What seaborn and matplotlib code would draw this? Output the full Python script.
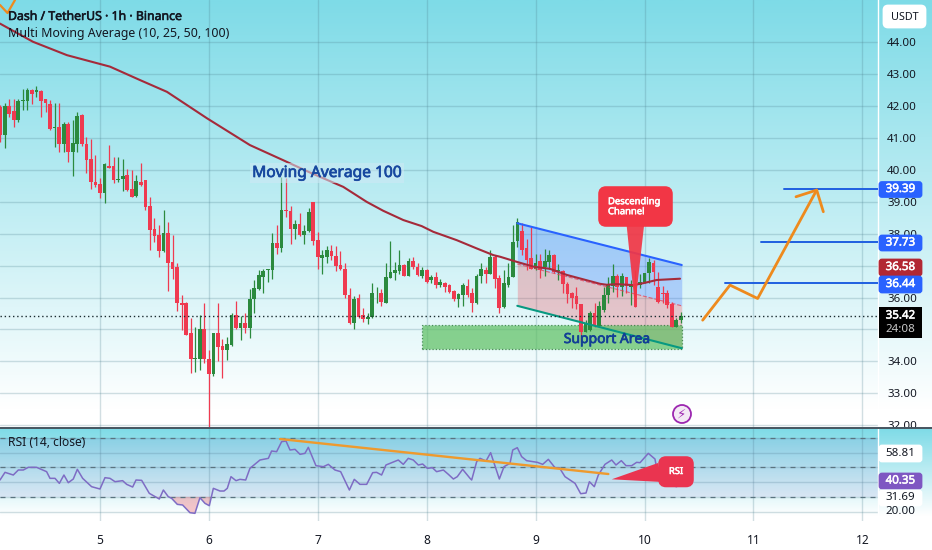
import numpy as np
import pandas as pd
import seaborn as sns
from matplotlib import pyplot as plt
from matplotlib import patheffects as pe
from matplotlib.colors import LinearSegmentedColormap
from matplotlib.patches import FancyBboxPatch, Polygon, Circle, Rectangle

W, H = 932, 550

day_ticks = [5, 6, 7, 8, 9, 10, 11, 12]
price_ticks = list(range(32, 45))

# candles, one per hour starting 22 hours before day 5
opens = [41.98, 41.09, 42.00, 41.85, 41.56, 42.17, 42.16, 42.50, 42.43, 42.47, 42.21, 42.07, 41.31, 41.35, 40.81, 41.43, 40.57, 40.83, 41.72, 40.83, 40.33, 39.63, 39.55, 39.29, 40.13, 40.12, 39.70, 39.73, 39.84, 39.40, 39.19, 39.63, 39.68,
         38.87, 38.14, 37.96, 37.46, 38.01, 37.12, 36.97, 35.84, 35.82, 34.88, 34.08, 34.06, 35.00, 34.07, 33.60, 34.88, 34.48, 34.35, 34.51, 35.45, 35.03, 35.21, 35.06, 35.94, 36.27, 36.65, 36.86, 36.86, 37.70, 37.54, 38.76, 38.72, 38.15, 38.32,
         37.96, 38.09, 38.98, 37.80, 37.25, 37.28, 37.46, 37.30, 37.02, 36.91, 36.08, 35.19, 35.97, 35.45, 35.33, 35.38, 36.13, 36.15, 35.84, 36.62, 36.78, 36.83, 37.02, 36.68, 37.14, 36.97, 36.68, 36.86, 36.55, 36.63, 36.39, 36.47, 36.39, 36.20, 35.95, 36.08, 36.37, 36.13, 35.82, 36.68, 36.86, 36.74, 37.28, 36.60, 35.69, 36.39,
         36.65, 37.77, 38.10, 37.56, 37.23, 36.88, 37.15, 36.97, 37.10, 37.33, 36.83, 36.84, 36.42, 36.15, 36.05, 35.79, 34.93, 34.98, 35.52, 35.12, 35.61, 36.08, 36.36, 36.67, 36.34, 36.63, 36.32, 36.39, 36.39, 36.50, 36.76, 37.09, 36.34, 36.15, 36.15, 35.79, 35.09, 35.30]
closes = [41.09, 42.00, 41.77, 41.56, 42.17, 42.19, 42.50, 42.37, 42.50, 42.16, 42.09, 41.27, 41.35, 40.81, 41.43, 40.57, 40.85, 41.70, 40.81, 40.31, 39.63, 39.53, 39.29, 40.18, 40.07, 39.70, 39.73, 39.82, 39.37, 39.16, 39.65, 39.53, 38.85,
          38.12, 37.93, 37.46, 38.01, 37.09, 36.89, 35.82, 35.76, 34.84, 34.07, 34.11, 35.00, 34.06, 33.60, 34.88, 34.46, 34.35, 34.54, 35.45, 35.03, 35.21, 35.06, 35.95, 36.29, 36.70, 36.83, 36.88, 37.70, 37.54, 38.74, 38.72, 38.14, 38.30, 37.95,
          38.09, 38.68, 37.77, 37.28, 37.33, 37.49, 37.30, 36.99, 36.91, 36.08, 35.19, 35.94, 35.38, 35.33, 35.40, 36.13, 36.15, 35.87, 36.63, 36.79, 36.86, 37.02, 36.68, 37.14, 36.95, 36.70, 36.86, 36.50, 36.65, 36.39, 36.48, 36.34, 36.16, 35.94, 36.11, 36.39, 36.08, 35.82, 36.68, 36.89, 36.74, 37.28, 36.58, 35.68, 36.44, 36.65,
          37.75, 38.38, 37.49, 37.18, 36.91, 37.07, 36.86, 37.15, 37.33, 36.81, 36.86, 36.41, 36.11, 35.97, 35.79, 34.93, 35.19, 35.50, 35.12, 35.73, 36.08, 36.39, 36.67, 36.34, 36.67, 36.36, 36.39, 35.71, 36.50, 36.76, 37.12, 36.81, 35.87, 36.11, 35.76, 35.09, 35.30, 35.42]
highs = [42.03, 42.09, 42.24, 42.24, 42.22, 42.53, 42.56, 42.53, 42.64, 42.50, 42.24, 42.19, 42.09, 42.09, 41.51, 41.49, 41.56, 41.83, 41.74, 41.04, 40.97, 40.47, 39.74, 40.21, 40.78, 40.41, 40.41, 40.33, 40.02, 40.00, 39.84, 40.23, 39.70,
         39.16, 38.48, 38.27, 38.76, 38.38, 37.96, 37.07, 36.08, 35.87, 35.35, 35.09, 35.45, 35.82, 34.37, 34.90, 35.84, 34.69, 34.75, 35.52, 35.90, 35.42, 35.52, 36.26, 36.55, 36.86, 36.91, 36.91, 38.01, 38.27, 39.78, 39.75, 38.87, 38.43, 38.66,
         38.27, 38.80, 39.00, 38.06, 37.49, 37.61, 37.65, 37.63, 37.46, 37.09, 36.29, 36.05, 36.10, 35.66, 35.50, 36.44, 36.32, 36.26, 37.07, 37.77, 37.12, 37.49, 37.04, 37.23, 37.26, 37.07, 36.97, 36.89, 36.70, 36.81, 36.58, 36.50, 36.42, 36.23, 36.13, 36.44, 36.57, 36.29, 36.73, 37.09, 36.97, 37.49, 37.33, 36.70, 36.86, 37.07,
         38.27, 38.50, 38.33, 37.85, 38.22, 37.38, 37.38, 37.51, 37.49, 37.35, 37.04, 36.86, 36.50, 36.18, 36.34, 35.80, 35.30, 35.59, 35.84, 35.90, 36.34, 36.63, 37.04, 36.74, 36.78, 36.65, 36.55, 36.86, 36.74, 36.78, 37.23, 37.18, 36.81, 36.36, 36.23, 35.87, 35.35, 35.56]
lows = [40.88, 40.68, 41.67, 41.35, 41.51, 41.88, 41.88, 42.07, 42.30, 41.67, 41.83, 41.25, 40.73, 40.57, 40.57, 40.26, 39.82, 40.57, 40.75, 39.89, 39.40, 39.47, 39.11, 38.95, 40.05, 39.58, 39.63, 39.35, 39.35, 39.14, 39.16, 39.50, 38.76,
        37.49, 37.75, 37.28, 37.44, 36.21, 36.58, 35.59, 34.98, 34.82, 33.62, 33.67, 33.73, 33.96, 31.80, 33.55, 34.01, 33.49, 34.04, 34.49, 35.01, 34.67, 34.88, 34.72, 35.52, 36.24, 36.15, 36.50, 36.58, 37.36, 37.44, 38.51, 37.68, 37.82, 37.93,
        37.68, 38.07, 37.65, 36.89, 36.73, 37.09, 37.18, 36.83, 36.86, 36.00, 35.17, 35.01, 35.35, 35.22, 35.17, 35.35, 35.84, 35.74, 35.82, 36.60, 36.55, 36.74, 36.67, 36.67, 36.91, 36.68, 36.60, 36.44, 36.47, 36.29, 36.34, 36.18, 36.13, 35.90, 35.71, 35.74, 36.03, 35.56, 35.80, 36.44, 36.44, 36.73, 36.29, 35.50, 35.66, 36.34,
        36.63, 37.59, 37.33, 36.86, 36.88, 36.86, 36.60, 36.67, 36.88, 36.78, 36.55, 36.13, 35.82, 35.68, 35.63, 34.62, 34.91, 34.96, 35.09, 35.09, 35.56, 35.82, 36.18, 36.03, 36.05, 36.15, 35.77, 35.69, 36.29, 36.47, 36.47, 36.39, 35.82, 35.82, 35.66, 35.07, 35.07, 35.19]
candle_hours = np.arange(-22, 129)

ma_days = [4.082, 4.385, 4.697, 5.092, 5.367, 5.615, 5.983, 6.377, 6.68, 6.928, 7.234, 7.449, 7.601, 7.785, 7.954, 8.061, 8.275, 8.459, 8.612, 8.673, 8.826, 8.979, 9.132, 9.285, 9.438, 9.591, 9.653, 9.745, 9.897, 9.989, 10.112, 10.326]
ma_values = [44.59, 44.02, 43.60, 43.24, 42.82, 42.45, 41.62, 40.78, 40.31, 39.92, 39.47, 39.0, 38.72, 38.43, 38.24, 38.06, 37.80, 37.54, 37.33, 37.28, 37.12, 36.97, 36.90, 36.71, 36.57, 36.43, 36.40, 36.42, 36.39, 36.45, 36.55, 36.59]

rsi_days = [4.082, 4.128, 4.204, 4.250, 4.296, 4.342, 4.418, 4.510, 4.541, 4.587, 4.627, 4.669, 4.709, 4.755, 4.792, 4.841, 4.923, 5.000, 5.046, 5.092, 5.138, 5.208, 5.245, 5.300, 5.331, 5.383, 5.453, 5.545, 5.582, 5.627, 5.658, 5.710, 5.759, 5.826, 5.872, 5.918, 5.964, 6.004, 6.041, 6.102, 6.139, 6.169, 6.203, 6.249, 6.285, 6.338, 6.377, 6.469, 6.546, 6.576, 6.622, 6.668, 6.708, 6.745, 6.791, 6.837, 6.882, 6.913, 6.983, 7.051, 7.097, 7.158, 7.210, 7.290, 7.335, 7.387, 7.449, 7.504, 7.540, 7.586, 7.626, 7.739, 7.785, 7.831, 7.877, 7.923, 7.963, 8.006, 8.052, 8.091, 8.153, 8.199, 8.245, 8.281, 8.330, 8.398, 8.413, 8.459, 8.490, 8.545, 8.587, 8.667, 8.710, 8.765, 8.790, 8.832, 8.872, 8.918, 9.016, 9.065, 9.117, 9.178, 9.218, 9.270, 9.362, 9.414, 9.463, 9.494, 9.539, 9.576, 9.637, 9.699, 9.738, 9.787, 9.830, 9.882, 9.928, 9.959, 10.035, 10.096, 10.112, 10.188, 10.234, 10.295, 10.335]
rsi_values = [41.39, 46.59, 44.78, 48.17, 48.17, 49.98, 49.98, 47.04, 42.52, 42.52, 39.13, 44.78, 39.58, 42.07, 48.62, 42.52, 36.87, 35.29, 42.97, 42.52, 40.26, 40.94, 38.45, 36.64, 41.39, 41.16, 32.35, 28.51, 34.61, 30.09, 28.96, 24.89, 24.44, 19.24, 18.79, 29.41, 25.57, 23.99, 35.74, 33.93, 33.93, 35.74, 43.65, 40.94, 41.84, 41.39, 49.30, 54.95, 56.08, 61.05, 60.60, 67.38, 67.83, 61.73, 62.18, 58.79, 59.47, 63.54, 51.11, 50.43, 52.01, 48.17, 47.04, 34.61, 41.84, 38.45, 38.45, 46.36, 46.59, 44.78, 51.56, 54.95, 52.01, 56.08, 54.95, 51.56, 52.24, 49.30, 49.75, 47.04, 48.17, 45.23, 42.07, 43.65, 48.62, 42.52, 41.39, 53.82, 56.08, 54.27, 59.92, 42.07, 50.43, 52.69, 61.73, 63.31, 57.21, 54.50, 53.37, 52.01, 55.40, 49.75, 49.75, 43.65, 39.13, 32.12, 32.58, 40.26, 36.87, 44.78, 52.01, 54.95, 51.56, 54.50, 51.11, 51.11, 53.37, 53.14, 59.47, 55.63, 49.30, 45.91, 37.96, 36.87, 40.35]

arrow_days = [10.534, 10.785, 11.039, 11.581]
arrow_prices = [35.29, 36.39, 35.97, 39.37]
head_days = [11.391, 11.581, 11.642]
head_prices = [39.16, 39.37, 38.69]

target_prices = [39.39, 37.73, 36.44]
target_starts = [11.281, 11.07, 10.739]
last_price = 35.42

channel_days = [8.832, 10.342]
channel_top = [38.33, 37.02]
channel_mid = [37.05, 35.74]
channel_bottom = [35.74, 34.41]

support_days = [7.96, 10.342]
support_prices = [34.39, 35.14]

rsi_trend_days = [6.653, 9.668]
rsi_trend_values = [69.19, 45.46]

BLUE = '#2962ff'
RED = '#ef3a50'
GREEN = '#2b8a3e'
ORANGE = '#ee8a1d'
TEXT = '#131722'

sns.set_theme(style='white')
plt.rcParams['font.family'] = ['Noto Sans', 'DejaVu Sans']

fig = plt.figure(figsize=(W / 100, H / 100), dpi=100, facecolor='white')

# background gradients, the price pane fades out just above the pane divider
cmap = LinearSegmentedColormap.from_list('sky', ['#7edbe7', '#ffffff'])
ax_bg = fig.add_axes([0, 0, 1, 1], zorder=0)
ax_bg.imshow(np.clip(np.linspace(0, 1, 512) / (410 / H), 0, 1).reshape(-1, 1), cmap=cmap, aspect='auto',
             extent=[0, W, H, 0])
ax_bg.axis('off')

ax = fig.add_axes([0, 1 - 427 / H, 878 / W, 427 / H], zorder=1, facecolor='none')
ax.set_xlim(4.082, 12.144)
ax.set_ylim(31.94, 45.33)

ax_strip = fig.add_axes([0, 0, 1, 122 / H], zorder=2)
ax_strip.imshow(np.clip(np.linspace(0, 1, 256) / 0.72, 0, 1).reshape(-1, 1), cmap=cmap, aspect='auto')
ax_strip.axis('off')

ax_rsi = fig.add_axes([0, 1 - 521 / H, 878 / W, 92 / H], zorder=3, facecolor='none')
ax_rsi.set_xlim(4.082, 12.144)
ax_rsi.set_ylim(13.6, 75.97)

# grid
for a in (ax, ax_rsi):
    a.set_xticks(day_ticks)
    a.grid(True, color='#4d7f8e', alpha=0.25, linewidth=1)
    a.set_axisbelow(True)
    for name, spine in a.spines.items():
        spine.set_visible(name == 'right')
    a.spines['right'].set_color('white')
    a.spines['right'].set_linewidth(1)
    a.yaxis.tick_right()

ax.set_yticks(price_ticks)
ax.set_yticklabels([f'{p:.2f}' for p in price_ticks])
ax.tick_params(axis='x', length=0, labelbottom=False)
ax.tick_params(axis='y', length=0, pad=6.5, labelsize=8.3, labelcolor=TEXT)

ax_rsi.set_yticks([20, 30, 40, 50, 60, 70])
ax_rsi.set_yticklabels([])
ax_rsi.tick_params(axis='y', length=0)
ax_rsi.tick_params(axis='x', length=0, pad=9, labelsize=8.6, labelcolor=TEXT)
ax_rsi.set_xticklabels([str(d) for d in day_ticks])

# trade drawings below the candles
ax.fill_between(channel_days, channel_mid, channel_top, color=BLUE, alpha=0.26, linewidth=0, zorder=2)
ax.fill_between(channel_days, channel_bottom, channel_mid, color='#f23645', alpha=0.26, linewidth=0, zorder=2)
ax.add_patch(Rectangle((support_days[0], support_prices[0]), support_days[1] - support_days[0],
                       support_prices[1] - support_prices[0], facecolor='#5cbf60', alpha=0.7,
                       edgecolor='#1b6b2c', linestyle=':', linewidth=0.9, zorder=2))

# candles
candle_df = pd.DataFrame({'day': 5 + candle_hours / 24, 'open': opens, 'high': highs, 'low': lows, 'close': closes})
candle_df['color'] = np.where(candle_df['close'] >= candle_df['open'], GREEN, RED)
ax.vlines(candle_df['day'], candle_df['low'], candle_df['high'], color=candle_df['color'], linewidth=0.9, zorder=3)
ax.bar(candle_df['day'], (candle_df['close'] - candle_df['open']).abs(),
       bottom=candle_df[['open', 'close']].min(axis=1), width=0.034, color=candle_df['color'], linewidth=0, zorder=3)

sns.lineplot(x=ma_days, y=ma_values, ax=ax, color='#a52a3a', linewidth=1.5, errorbar=None, zorder=4)
ax.set_xlabel('')
ax.set_ylabel('')

ax.plot(channel_days, channel_top, color=BLUE, linewidth=1.5, zorder=5)
ax.plot(channel_days, channel_bottom, color='#089981', linewidth=1.5, zorder=5)
ax.plot(channel_days, channel_mid, color='#f23645', linewidth=0.8, linestyle='--', alpha=0.7, zorder=5)

ax.axhline(last_price, color='#1a2b30', linewidth=1, linestyle=(0, (1, 2)), zorder=5)
for price, start in zip(target_prices, target_starts):
    ax.plot([start, 12.144], [price, price], color='#1f5fe0', linewidth=1.4, zorder=5)

ax.plot(arrow_days, arrow_prices, color=ORANGE, linewidth=2, zorder=6)
ax.plot(head_days, head_prices, color=ORANGE, linewidth=2, zorder=6)

# RSI pane
ax_rsi.axhspan(30, 70, color='#7e57c2', alpha=0.1, linewidth=0)
for level in (70, 50, 30):
    ax_rsi.axhline(level, color='#5b7480', linewidth=0.9, linestyle=(0, (4, 4)))
rsi = np.array(rsi_values)
ax_rsi.fill_between(rsi_days, rsi, 30, where=rsi < 30, interpolate=True, color='#f23645', alpha=0.28, linewidth=0)
sns.lineplot(x=rsi_days, y=rsi_values, ax=ax_rsi, color='#7e6cc4', linewidth=1.1, errorbar=None)
ax_rsi.plot(rsi_trend_days, rsi_trend_values, color='#ee9a2e', linewidth=1.7)
ax_rsi.set_xlabel('')
ax_rsi.set_ylabel('')

# overlay in figure pixels for tags and callouts
ov = fig.add_axes([0, 0, 1, 1], zorder=4, facecolor='none')
ov.set_xlim(0, W)
ov.set_ylim(H, 0)
ov.axis('off')

ov.plot([0, W], [427.5, 427.5], color='#46545f', linewidth=1.4)


def heavy(color, width=0.45):
    # the text in the chart is heavier than a plain regular weight
    return [pe.withStroke(linewidth=width, foreground=color)]


def tag(y0, y1, label, face, color='white', bold=True):
    ov.add_patch(FancyBboxPatch((880, y0 + 1), 41, y1 - y0 - 2, boxstyle='round,pad=0,rounding_size=2',
                                mutation_aspect=1, facecolor=face, edgecolor=face, linewidth=2))
    t = ov.text(900.5, (y0 + y1) / 2, label, color=color, fontsize=8.3, ha='center', va='center')
    if bold:
        t.set_path_effects(heavy(color, 0.4))


tag(181.5, 197.5, '39.39', BLUE)
tag(235, 251, '37.73', BLUE)
tag(259, 276, '36.58', '#b22833')
tag(276, 293, '36.44', BLUE)
ov.add_patch(Rectangle((879, 307), 43, 31, facecolor='black', edgecolor='none'))
ov.text(900.5, 316, '35.42', color='white', fontsize=8.3, ha='center', va='center', path_effects=heavy('white', 0.4))
ov.text(900.5, 330, '24:08', color='#c8c8c8', fontsize=8.3, ha='center', va='center')

ov.add_patch(FancyBboxPatch((884, 6), 41, 21, boxstyle='round,pad=0,rounding_size=4', facecolor='white',
                            edgecolor='white', linewidth=2))
ov.text(904.5, 17, 'USDT', color=TEXT, fontsize=7.8, ha='center', va='center')

tag(445, 462, '58.81', 'white', color=TEXT, bold=False)
tag(473, 489, '40.35', '#7e57c2')
tag(490, 506, '31.69', 'white', color=TEXT, bold=False)
ov.text(900.5, 511.5, '20.00', color=TEXT, fontsize=8.3, ha='center', va='center')

ov.text(8, 16.5, 'Dash / TetherUS · 1h · Binance', color=TEXT, fontsize=8.85, va='center', path_effects=heavy(TEXT, 0.4))
ov.text(8, 33, 'Multi Moving Average (10, 25, 50, 100)', color=TEXT, fontsize=8.9, va='center')
ov.text(8, 443, 'RSI (14, close)', color=TEXT, fontsize=8.7, va='center')

# corner remnant of an older arrow
ov.plot([0, 7.5, 15], [5, 13, 0], color=ORANGE, linewidth=1.6)

ov.text(327, 173, 'Moving Average 100', color='#17489f', fontsize=11.2, ha='center', va='center',
        path_effects=heavy('#17489f', 0.5), bbox=dict(facecolor='#cfe9f5', alpha=0.55, edgecolor='none', pad=1.5))
ov.text(607, 339.5, 'Support Area', color='#123f96', fontsize=10, ha='center', va='center',
        path_effects=heavy('#123f96', 0.5))

# descending channel callout
ov.add_patch(Polygon([(626.7, 226), (644, 226), (635, 306.7)], closed=True, facecolor='#f23645', alpha=0.92,
                     edgecolor='none'))
ov.add_patch(FancyBboxPatch((601, 189), 69, 35, boxstyle='round,pad=0,rounding_size=5', facecolor='#f23645',
                            edgecolor='#f23645', linewidth=4))
ov.text(608, 201.7, 'Descending', color='white', fontsize=6.8, va='center', path_effects=heavy('white', 0.4))
ov.text(608, 211.7, 'Channel', color='white', fontsize=6.8, va='center', path_effects=heavy('white', 0.4))

# RSI callout
ov.add_patch(Polygon([(611.7, 479.3), (658, 463), (662, 482)], closed=True, facecolor='#ea3450', edgecolor='none'))
ov.add_patch(FancyBboxPatch((661, 459), 30, 25.5, boxstyle='round,pad=0,rounding_size=5', facecolor='#ea3450',
                            edgecolor='#ea3450', linewidth=4))
ov.text(676, 471.5, 'RSI', color='white', fontsize=6.8, ha='center', va='center', path_effects=heavy('white', 0.4))

# flash icon
ov.add_patch(Circle((682, 414), 9, facecolor='#f3e9f5', edgecolor='#9c27b0', linewidth=1.3))
ov.text(682, 414, '\u26a1', color='#9c27b0', fontsize=9.5, ha='center', va='center', family='DejaVu Sans')

fig.savefig('out.png', dpi=100)
